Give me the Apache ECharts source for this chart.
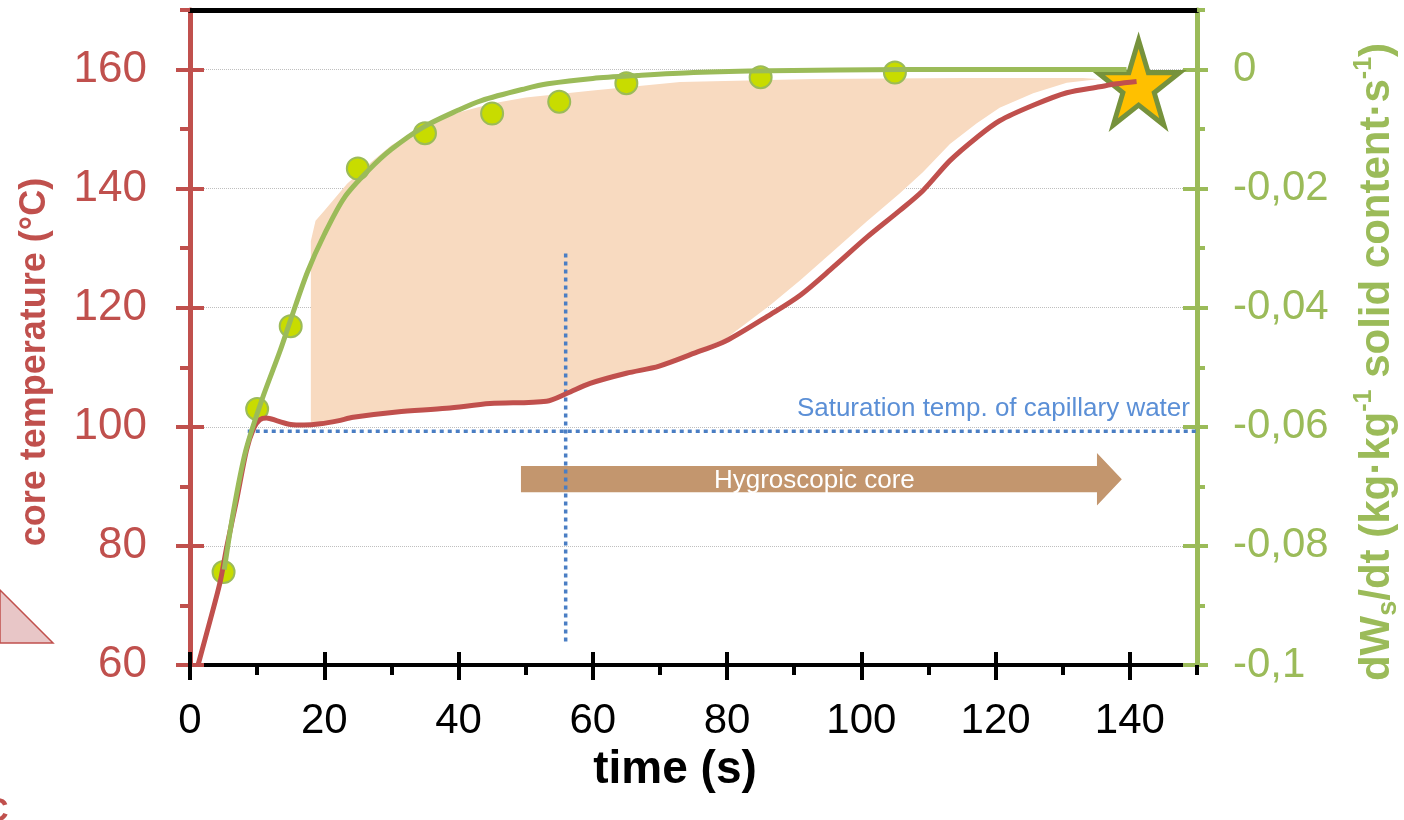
<!DOCTYPE html>
<html><head><meta charset="utf-8">
<script src="https://cdn.jsdelivr.net/npm/echarts@6/dist/echarts.min.js"></script>
<style>html,body{margin:0;padding:0;background:#fff}#c{width:1404px;height:820px}</style>
</head><body><div id="c"></div>
<script>
// ---- tick labels ----
const xTicks = [0, 20, 40, 60, 80, 100, 120, 140];
const leftTicks = [60, 80, 100, 120, 140, 160];
const rightTicks = [-0.1, -0.08, -0.06, -0.04, -0.02, 0];

// ---- core temperature (°C) vs time (s) ----
const coreTemp = [
  [1.2,60],[3,67.5],[4.5,74],[5.5,80],[7,88],[8.4,96],[9.5,99.8],[10.4,101.2],[11.4,101.5],
  [13,101],[15,100.4],[17,100.3],[19.4,100.5],[22,101],[24.3,101.6],[30.8,102.5],[38.2,103.1],
  [44.7,103.9],[53.1,104.3],[56.1,105.6],[59.6,107.3],[65,109],[69.9,110.2],[75.9,112.7],
  [79.8,114.4],[86.5,118.9],[90.9,122.1],[95.8,126.8],[100.8,131.8],[105.7,136.3],[109.2,139.7],
  [113.2,144.7],[117.2,148.6],[120.6,151.4],[125.6,154],[130.6,156.1],[135.5,157.1],[138,157.6],[141,158]
];

// ---- dWs/dt fitted curve (right axis) ----
const dWdtCurve = [
  [5.1,-0.084],[6.5,-0.074],[8.3,-0.064],[10.7,-0.0555],[13.4,-0.0473],[15,-0.042],[17.5,-0.034],
  [20,-0.0277],[23,-0.0215],[26.7,-0.0168],[30,-0.0134],[34.7,-0.0097],[40,-0.0068],[43.4,-0.0052],
  [50,-0.0032],[53.3,-0.0024],[60,-0.0015],[66.6,-0.001],[75,-0.0005],[86.5,-0.0002],[106.5,0],[139.5,0]
];

// ---- dWs/dt measured points (right axis) ----
const dWdtPoints = [
  [5,-0.0844],[10,-0.057],[15,-0.0431],[25,-0.0166],[35,-0.0107],[45,-0.0074],
  [55,-0.0054],[65,-0.0023],[85,-0.0013],[105,-0.0005]
];

// ---- end point (star) ----
const endPoint = [[141.3,157.8]];

// ---- shaded band (left axis units) ----
const bandTop = [
  [18,131.2],[18.7,134.6],[20,136.3],[23.4,140.8],[26.7,144.2],[30,147.3],[35,150.5],[40,152.8],
  [45,154.3],[50,155.3],[60,156.5],[73,157.9],[93,158.4],[115,158.6],[133,158.6],[138,158.2]
];
const bandBottom = [
  [18,100.3],[20,100.6],[24.3,101.8],[30.8,102.7],[38.2,103.3],[44.7,104.1],[53.1,104.5],
  [56.1,105.8],[59.6,107.5],[65,109.2],[69.9,110.4],[75.9,113],[79.8,114.8],[86.5,120.5],
  [90.9,124.6],[95.8,129.5],[100.8,134.5],[105.7,139.2],[109.2,142.8],[113.2,147.5],[117.2,151],
  [120.6,153.6],[125.6,156],[130.6,157.8],[135.5,158.4],[138,158.2]
];

// ---- reference lines (left axis units) ----
const saturationLine = [[8.6,99.26],[150.4,99.26]];
const markerLine = [[55.96,129.1],[55.96,63.4]];

// ---- annotations (left axis units) ----
const arrowShape = [[49.3,93.4],[135.1,93.4],[135.1,95.6],[138.8,91.2],[135.1,86.8],[135.1,89.0],[49.3,89.0]];
const arrowLabel = {pos:[93.0,91.0], text:'Hygroscopic core'};
const satLabel = {pos:[90.4,103.1], text:'Saturation temp. of capillary water'};

const RED = '#C0504D', GREEN = '#9BBB59', FONT = '"Liberation Sans", Arial, sans-serif';
const starPath = 'path://M50 0 L61.23 34.55 L97.55 34.55 L68.17 55.9 L79.39 90.45 L50 69.1 L20.61 90.45 L31.83 55.9 L2.45 34.55 L38.77 34.55 Z';

function fmtRight(v){ if (Math.abs(v) < 1e-9) return '0'; return String(+v.toFixed(2)).replace('.', ','); }

const hidden = {axisLine:{show:false}, axisLabel:{show:false}, splitLine:{show:false}};
const chart = echarts.init(document.getElementById('c'));
chart.setOption({
  animation:false,
  grid:{left:190, right:207, top:10, bottom:155, containLabel:false},
  xAxis:[
    {type:'value', position:'bottom', min:0, max:150, interval:20,
     axisLine:{onZero:false, lineStyle:{color:'#000', width:4}},
     axisTick:{inside:false, length:15, customValues:xTicks, lineStyle:{color:'#000', width:4}},
     axisLabel:{customValues:xTicks, color:'#000', fontSize:42, fontFamily:FONT, margin:35},
     splitLine:{show:false}},
    Object.assign({type:'value', position:'bottom', min:0, max:150, interval:20,
     axisTick:{inside:true, length:13, customValues:xTicks, lineStyle:{color:'#000', width:4}}}, hidden, {axisLine:{show:false, onZero:false}}),
    Object.assign({type:'value', position:'bottom', min:0, max:150, interval:10,
     axisTick:{inside:false, length:10, lineStyle:{color:'#000', width:4}}}, hidden, {axisLine:{show:false, onZero:false}}),
    {type:'value', position:'top', min:0, max:150,
     axisLine:{onZero:false, lineStyle:{color:'#000', width:5}}, axisTick:{show:false}, axisLabel:{show:false}, splitLine:{show:false}}
  ],
  yAxis:[
    {type:'value', position:'left', min:60, max:170, interval:20,
     axisLine:{show:true, onZero:false, lineStyle:{color:RED, width:5}},
     axisTick:{inside:false, length:14, customValues:leftTicks, lineStyle:{color:RED, width:4}},
     axisLabel:{customValues:leftTicks, color:RED, fontSize:44, fontFamily:FONT, margin:43},
     splitLine:{show:true, lineStyle:{color:'#BFBFBF', width:1, type:'dotted'}}},
    Object.assign({type:'value', position:'left', min:60, max:170, interval:20,
     axisTick:{inside:true, length:14, customValues:leftTicks, lineStyle:{color:RED, width:4}}}, hidden, {axisLine:{show:false, onZero:false}}),
    Object.assign({type:'value', position:'left', min:60, max:170, interval:10,
     axisTick:{inside:false, length:10, lineStyle:{color:RED, width:4}}}, hidden, {axisLine:{show:false, onZero:false}}),
    {type:'value', position:'right', min:-0.1, max:0.01, interval:0.02,
     axisLine:{show:true, onZero:false, lineStyle:{color:GREEN, width:5}},
     axisTick:{inside:false, length:11, customValues:rightTicks, lineStyle:{color:GREEN, width:4}},
     axisLabel:{customValues:rightTicks, formatter:fmtRight, color:GREEN, fontSize:42, fontFamily:FONT, margin:36},
     splitLine:{show:false}},
    Object.assign({type:'value', position:'right', min:-0.1, max:0.01, interval:0.02,
     axisTick:{inside:true, length:14, customValues:rightTicks, lineStyle:{color:GREEN, width:4}}}, hidden, {axisLine:{show:false, onZero:false}}),
    Object.assign({type:'value', position:'right', min:-0.1, max:0.01, interval:0.01,
     axisTick:{inside:false, length:8, lineStyle:{color:GREEN, width:4}}}, hidden, {axisLine:{show:false, onZero:false}})
  ],
  series:[
    {type:'custom', name:'band', coordinateSystem:'cartesian2d', xAxisIndex:0, yAxisIndex:0, silent:true,
     data:[[100,120]],
     renderItem:function(p, api){
       const pts = bandTop.map(q => api.coord(q)).concat(bandBottom.slice().reverse().map(q => api.coord(q)));
       return {type:'polygon', shape:{points:pts}, style:{fill:'#F8DAC0'}};
     }},
    {type:'line', name:'saturation', xAxisIndex:0, yAxisIndex:0, data:saturationLine, symbol:'none', clip:false, silent:true,
     lineStyle:{color:'#4A7EC4', width:3.5, type:[4,4]}},
    {type:'line', name:'marker', xAxisIndex:0, yAxisIndex:0, data:markerLine, symbol:'none', clip:false, silent:true,
     lineStyle:{color:'#4A7EC4', width:3.5, type:[4,4]}},
    {type:'custom', name:'annotations', coordinateSystem:'cartesian2d', xAxisIndex:0, yAxisIndex:0, silent:true,
     data:[[100,120]],
     renderItem:function(p, api){
       const a = api.coord(arrowLabel.pos), s = api.coord(satLabel.pos);
       return {type:'group', children:[
         {type:'polygon', shape:{points:arrowShape.map(q => api.coord(q))}, style:{fill:'#C3966E', blend:'multiply'}},
         {type:'text', x:a[0], y:a[1], style:{text:arrowLabel.text, fill:'#FFFFFF', fontSize:26, fontFamily:FONT, align:'center', verticalAlign:'middle'}},
         {type:'text', x:s[0], y:s[1], style:{text:satLabel.text, fill:'#5B8FD6', fontSize:26, fontFamily:FONT, align:'left', verticalAlign:'middle'}}
       ]};
     }},
    {type:'line', name:'core temperature', xAxisIndex:0, yAxisIndex:0, data:coreTemp, symbol:'none', smooth:0.3,
     lineStyle:{color:RED, width:5}},
    {type:'line', name:'dWs/dt', xAxisIndex:0, yAxisIndex:3, data:dWdtCurve, symbol:'none', smooth:0.3,
     lineStyle:{color:GREEN, width:5}},
    {type:'scatter', name:'dWs/dt points', xAxisIndex:0, yAxisIndex:3, data:dWdtPoints, symbol:'circle', symbolSize:22,
     itemStyle:{color:'#C8DC00', borderColor:GREEN, borderWidth:2, opacity:1}},
    {type:'scatter', name:'end', xAxisIndex:0, yAxisIndex:0, data:endPoint, symbol:starPath, symbolKeepAspect:false, symbolSize:[82,85],
     itemStyle:{color:'#FFC000', borderColor:'#76923C', borderWidth:5, borderJoin:'miter', opacity:1}}
  ],
  graphic:[
    {type:'polygon', shape:{points:[[0,590],[53,643],[0,643]]}, style:{fill:'#E8C6C7', stroke:RED, lineWidth:1.5}},
    {type:'text', x:-16, y:812, style:{text:'C', fill:RED, fontSize:34, fontWeight:'bold', fontFamily:FONT, align:'left', verticalAlign:'middle'}},
    {type:'text', x:35, y:362, rotation:Math.PI/2, style:{text:'core temperature (°C)', fill:RED, fontSize:36, fontWeight:'bold', fontFamily:FONT, align:'center', verticalAlign:'middle'}},
    {type:'text', x:675, y:770, style:{text:'time (s)', fill:'#000', fontSize:46, fontWeight:'bold', fontFamily:FONT, align:'center', verticalAlign:'middle'}},
    {type:'text', x:1377, y:362, rotation:Math.PI/2, style:{
      text:'{a|dW}{b|s}{a|/dt (kg·kg}{c|-1}{a| solid content·s}{c|-1}{a|)}',
      align:'center', verticalAlign:'middle',
      rich:{
        a:{fontSize:42, fontWeight:'bold', fontFamily:FONT, fill:GREEN, lineHeight:50},
        b:{fontSize:27, fontWeight:'bold', fontFamily:FONT, fill:GREEN, lineHeight:24, verticalAlign:'bottom'},
        c:{fontSize:25, fontWeight:'bold', fontFamily:FONT, fill:GREEN, lineHeight:24, verticalAlign:'top'}
      }}}
  ]
});
</script></body></html>
